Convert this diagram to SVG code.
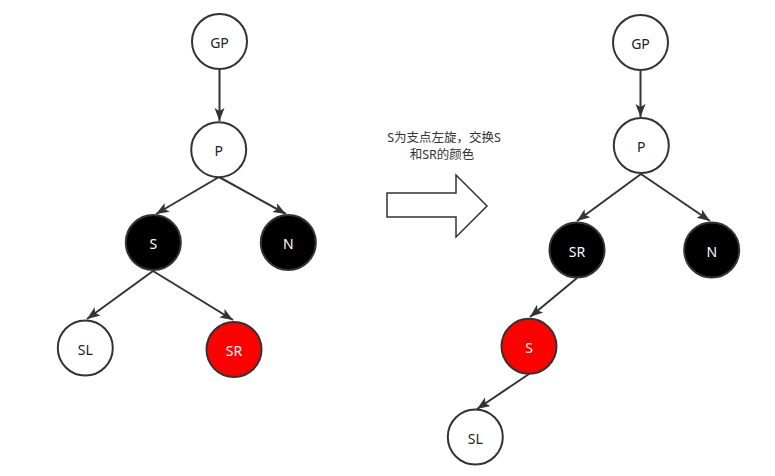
<svg xmlns="http://www.w3.org/2000/svg" width="775" height="476" viewBox="0 0 775 476">
<style>
.n{stroke:#333;stroke-width:2}
.w{fill:#fff}
.b{fill:#000}
.r{fill:#ff0000}
.t{font-family:"Noto Sans","Liberation Sans","Noto Sans CJK SC",sans-serif;font-size:14px;text-anchor:middle;dominant-baseline:central}
.tw{fill:#fff}
.td{fill:#222}
.e{stroke:#333;stroke-width:2;fill:none;marker-end:url(#ah)}
.cap{font-family:"Noto Sans","Noto Sans CJK SC",sans-serif;font-size:12.5px;fill:#333;text-anchor:middle}
</style>
<defs>
<marker id="ah" markerUnits="userSpaceOnUse" markerWidth="14" markerHeight="12" viewBox="-13 -6 14 12" refX="0" refY="0" orient="auto">
<path d="M-13,-5 L0,0 L-13,5 L-10,0 Z" fill="#333"/>
</marker>
</defs>
<rect width="775" height="476" fill="#fff"/>
<g id="connectors">
<line class="e" x1="219.5" y1="70" x2="219.5" y2="121"/>
<line class="e" x1="219" y1="177" x2="156" y2="214"/>
<line class="e" x1="219" y1="177" x2="286" y2="214"/>
<line class="e" x1="153" y1="271" x2="87" y2="319"/>
<line class="e" x1="153" y1="271" x2="233" y2="320"/>
<line class="e" x1="640.5" y1="71" x2="640.5" y2="117"/>
<line class="e" x1="641" y1="174" x2="577" y2="221"/>
<line class="e" x1="641" y1="174" x2="710" y2="221"/>
<line class="e" x1="577" y1="278" x2="530" y2="317"/>
<line class="e" x1="529" y1="374" x2="477" y2="409"/>
</g>
<g id="L_GP"><circle class="n w" cx="219.5" cy="41.5" r="27.5"/><text class="t td" x="219.5" y="42">GP</text></g>
<g id="L_P"><circle class="n w" cx="218.7" cy="149.7" r="27.5"/><text class="t td" x="218.7" y="150">P</text></g>
<g id="L_S"><circle class="n b" cx="153.3" cy="242.5" r="27.5"/><text class="t tw" x="153.3" y="243">S</text></g>
<g id="L_N"><circle class="n b" cx="288.3" cy="242.5" r="27.5"/><text class="t tw" x="288.3" y="243">N</text></g>
<g id="L_SL"><circle class="n w" cx="85.3" cy="348" r="27.5"/><text class="t td" x="85.3" y="349">SL</text></g>
<g id="L_SR"><circle class="n r" cx="234" cy="349.5" r="27.5"/><text class="t tw" x="234" y="350">SR</text></g>
<g id="arrow">
<polygon points="387,193 456,193 456,175 487,206 456,237 456,217 387,217" fill="#fff" stroke="#333" stroke-width="1.5"/>
<text class="cap" x="444" y="142">S为支点左旋，交换S</text>
<text class="cap" x="442" y="159">和SR的颜色</text>
</g>
<g id="R_GP"><circle class="n w" cx="640.5" cy="42.5" r="27.5"/><text class="t td" x="640.5" y="43">GP</text></g>
<g id="R_P"><circle class="n w" cx="641.3" cy="145.5" r="27.5"/><text class="t td" x="641.3" y="146">P</text></g>
<g id="R_SR"><circle class="n b" cx="577" cy="250" r="27.5"/><text class="t tw" x="577" y="251">SR</text></g>
<g id="R_N"><circle class="n b" cx="711.7" cy="250" r="27.5"/><text class="t tw" x="711.7" y="251">N</text></g>
<g id="R_S"><circle class="n r" cx="529" cy="346.3" r="27.5"/><text class="t tw" x="529" y="347">S</text></g>
<g id="R_SL"><circle class="n w" cx="475.3" cy="437" r="27.5"/><text class="t td" x="475.3" y="438">SL</text></g>
</svg>
